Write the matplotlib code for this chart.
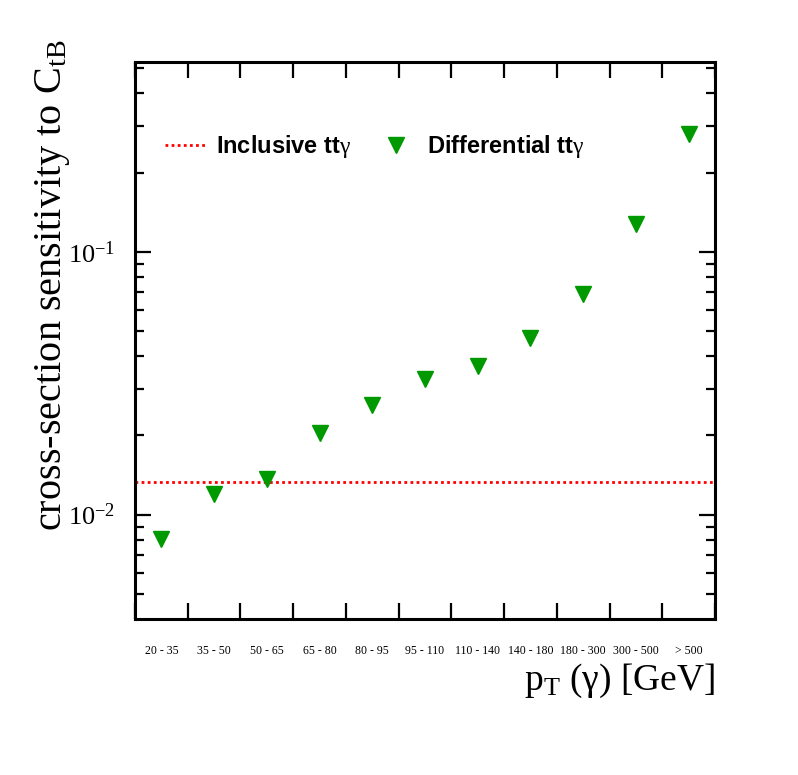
import numpy as np
import matplotlib
matplotlib.use("Agg")
import matplotlib.pyplot as plt
from matplotlib.ticker import LogLocator, FixedLocator, NullFormatter

# pt bins and the sensitivity
bins = ["20 - 35", "35 - 50", "50 - 65", "65 - 80", "80 - 95", "95 - 110",
        "110 - 140", "140 - 180", "180 - 300", "300 - 500", "> 500"]
sens_diff = [0.00805, 0.0120, 0.0137, 0.0205, 0.0262, 0.0327,
             0.0369, 0.0468, 0.0688, 0.127, 0.281]
sens_incl = 0.01335

plt.rcParams['mathtext.fontset'] = 'custom'
plt.rcParams['mathtext.rm'] = 'Liberation Serif'
plt.rcParams['mathtext.it'] = 'Liberation Serif:italic'
plt.rcParams['font.family'] = 'Liberation Serif'

fig = plt.figure(figsize=(7.98, 7.75), dpi=100)
ax = fig.add_axes([0.1692, 0.2013, 0.7268, 0.7191])

nb = len(bins)
xc = np.arange(nb) + 0.5

ax.axhline(sens_incl, color='#ff0000', ls=(0, (1, 1.2)), lw=2,
           label=r'Inclusive tt$\mathrm{\gamma}$')
ax.plot(xc, sens_diff, ls='none', marker='v', ms=11, color='#009900', mec='#009900',
        label=r'Differential tt$\mathrm{\gamma}$')

ax.set_yscale('log')
ax.set_ylim(0.00401, 0.528)
ax.set_xlim(0, nb)

# bin edges get the ticks, bin centres get the labels
ax.xaxis.set_major_locator(FixedLocator(np.arange(nb + 1)))
ax.xaxis.set_major_formatter(NullFormatter())
ax.xaxis.set_minor_locator(FixedLocator(xc))
ax.set_xticklabels(bins, minor=True, fontsize=8.5)
ax.tick_params(axis='x', which='minor', length=0, pad=19)

ax.yaxis.set_major_locator(LogLocator(base=10, numticks=10))
ax.yaxis.set_minor_locator(LogLocator(base=10, subs=np.arange(2, 10), numticks=10))
ax.yaxis.set_minor_formatter(NullFormatter())
ax.set_yticks([0.01, 0.1])
ax.set_yticklabels([r'$10^{-2}$', r'$10^{-1}$'], fontsize=19)

ax.tick_params(axis='both', which='major', direction='in', length=11.5, width=1.6,
               top=True, right=True)
ax.tick_params(axis='y', which='major', pad=14)
ax.tick_params(axis='y', which='minor', direction='in', length=6.5, width=1.6,
               left=True, right=True)
for s in ax.spines.values():
    s.set_linewidth(2.2)

ax.set_ylabel(r'cross-section sensitivity to C$_{\mathrm{tB}}$', fontsize=29, loc='top')
ax.yaxis.set_label_coords(-0.108, 1.039)
ax.set_xlabel('p$_{\\mathrm{T}}$ (\u03b3) [GeV]', fontsize=27, loc='right', labelpad=3)

leg = ax.legend(ncol=2, frameon=False, loc='center left', bbox_to_anchor=(0.0517, 0.847),
                borderpad=0, borderaxespad=0, handlelength=1.7, handletextpad=0.45,
                columnspacing=1.05, prop={'family': 'Liberation Sans', 'weight': 'bold', 'size': 17})

fig.savefig('out.png', dpi=100)
